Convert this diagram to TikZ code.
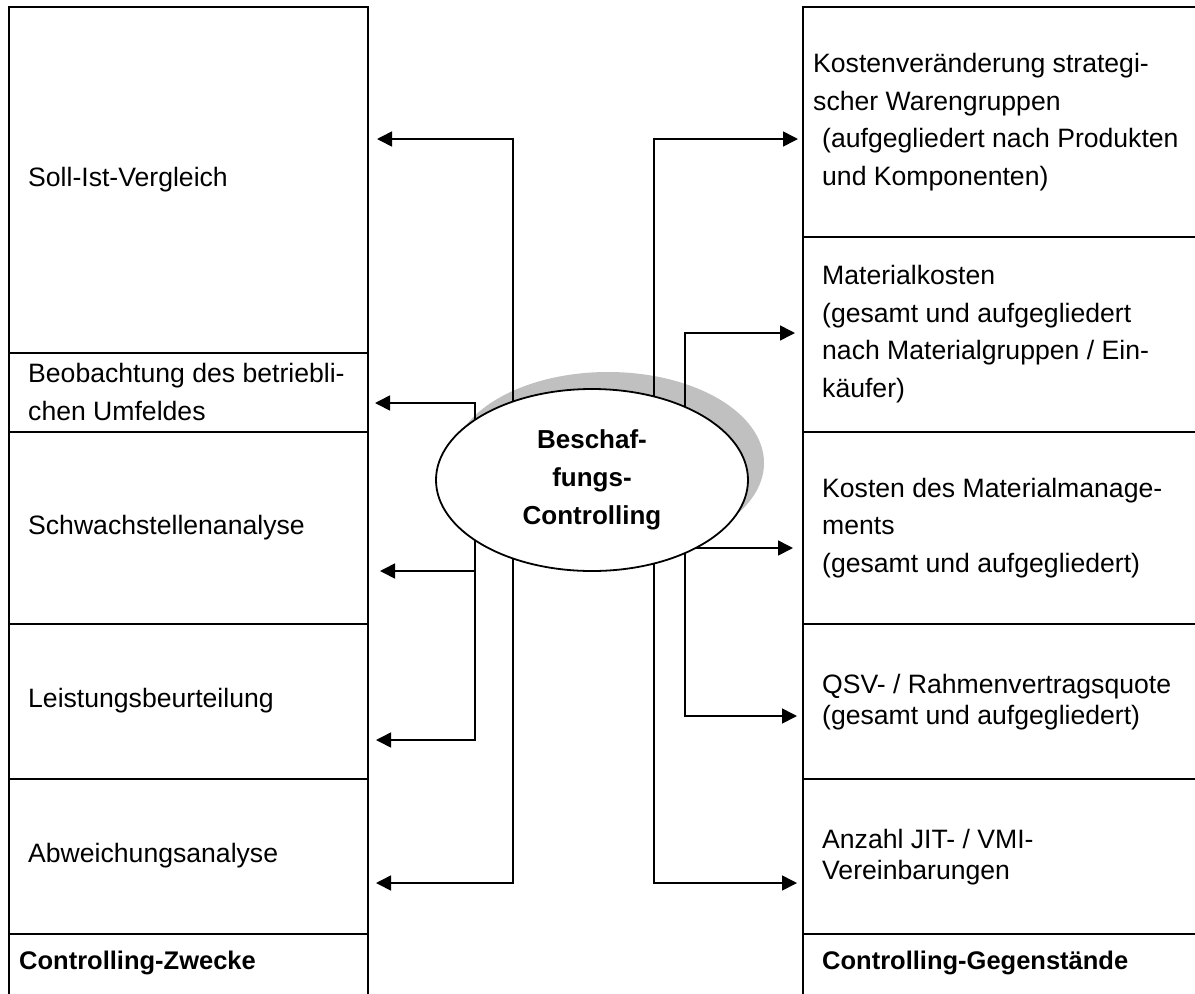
\documentclass[tikz,border=0pt]{standalone}
\usepackage{fontspec}
\setmainfont{Liberation Sans}
\usetikzlibrary{shapes.geometric,arrows.meta}
\definecolor{shadowgray}{RGB}{192,192,192}
\begin{document}
\begin{tikzpicture}[x=1pt,y=-1pt,
  grid/.style={line width=2.2pt},
  link/.style={line width=1.6pt},
  arr/.style={link,-{Triangle[length=15pt,width=15pt]}},
  cell/.style={anchor=west,align=left,inner sep=0pt,font=\fontsize{26.6}{37.5}\selectfont},
  tight/.style={font=\fontsize{26.6}{31}\selectfont},
  head/.style={anchor=west,align=left,inner sep=0pt,font=\fontsize{25.5}{37.5}\selectfont\bfseries},
  hub/.style={ellipse,draw,line width=1.8pt,fill=white,minimum width=312pt,minimum height=182pt,
    inner sep=0pt,align=center,font=\fontsize{26}{38}\selectfont\bfseries}
]
\useasboundingbox (0,0) rectangle (1195,994);

% table of purposes (left) and objects (right)
\draw[grid] (9,994) -- (9,7) -- (368,7) -- (368,994);
\foreach \y in {353,432,624,779,934} \draw[grid] (9,\y) -- (368,\y);
\draw[grid] (803,994) -- (803,7) -- (1197,7);
\foreach \y in {237,432,624,779,934} \draw[grid] (803,\y) -- (1197,\y);

% purposes
\node[cell] (z1) at (28,180) {Soll-Ist-Vergleich};
\node[cell] (z2) at (28,392) {Beobachtung des betriebli-\\chen Umfeldes};
\node[cell] (z3) at (28,528) {Schwachstellenanalyse};
\node[cell] (z4) at (28,701) {Leistungsbeurteilung};
\node[cell] (z5) at (28,856) {Abweichungsanalyse};
\node[head] (zh) at (19,963) {Controlling-Zwecke};

% objects
\node[cell] (g1) at (813,122) {Kostenveränderung strategi-\\scher Warengruppen\\\hspace*{9pt}(aufgegliedert nach Produkten\\\hspace*{9pt}und Komponenten)};
\node[cell] (g2) at (822,334) {Materialkosten\\(gesamt und aufgegliedert\\nach Materialgruppen / Ein-\\käufer)};
\node[cell] (g3) at (822,528) {Kosten des Materialmanage-\\ments\\(gesamt und aufgegliedert)};
\node[cell,tight] (g4) at (822,702) {QSV- / Rahmenvertragsquote\\(gesamt und aufgegliedert)};
\node[cell,tight] (g5) at (822,857) {Anzahl JIT- / VMI-\\Vereinbarungen};
\node[head] (gh) at (822,963) {Controlling-Gegenstände};

% shadow of the central ellipse
\fill[shadowgray] (608,463) ellipse [x radius=156pt, y radius=91pt];

% branch points of the connectors
\coordinate (a1) at (513,139);  \coordinate (a2) at (513,883);
\coordinate (b1) at (475,403);  \coordinate (b2) at (475,571);  \coordinate (b3) at (475,740);
\coordinate (c1) at (654,139);  \coordinate (c2) at (654,883);
\coordinate (d1) at (685,333);  \coordinate (d2) at (685,548);  \coordinate (d3) at (685,716);
% arrow ends
\coordinate (ta1) at (377,139); \coordinate (ta2) at (376,883);
\coordinate (tb1) at (375,403); \coordinate (tb2) at (380,571); \coordinate (tb3) at (376,740);
\coordinate (tc1) at (798,139); \coordinate (tc2) at (797,883);
\coordinate (td1) at (795,333); \coordinate (td2) at (793,548); \coordinate (td3) at (797,716);

% connectors to the purposes
\draw[arr] (a2) -- (a1) -- (ta1);
\draw[arr] (a1) -- (a2) -- (ta2);
\draw[arr] (b3) -- (b1) -- (tb1);
\draw[arr] (b1) -- (b3) -- (tb3);
\draw[arr] (b2) -- (tb2);
% connectors to the objects
\draw[arr] (c2) -- (c1) -- (tc1);
\draw[arr] (c1) -- (c2) -- (tc2);
\draw[arr] (d3) -- (d1) -- (td1);
\draw[arr] (d1) -- (d3) -- (td3);
\draw[arr] (d2) -- (td2);

% central ellipse
\node[hub] (bc) at (592,480) {Beschaf-\\fungs-\\Controlling};
\end{tikzpicture}
\end{document}
